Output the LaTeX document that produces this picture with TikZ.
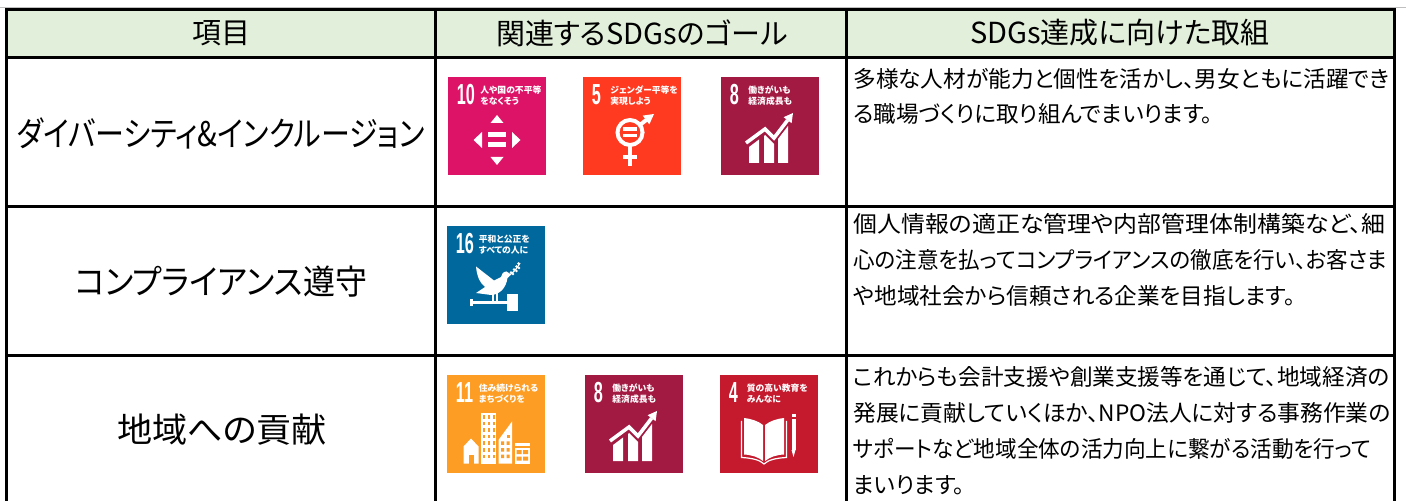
\documentclass[tikz,border=0pt]{standalone}
\usepackage{fontspec}
\usepackage{graphicx}
\setmainfont{Noto Sans CJK JP}[RawFeature=+palt]
\newfontfamily\numfont{Liberation Sans}
\usepackage{tikz}
\usetikzlibrary{arrows.meta}

\definecolor{hdrgreen}{RGB}{226,239,218}
\definecolor{sdgten}{HTML}{DD1367}
\definecolor{sdgfive}{HTML}{FF3A21}
\definecolor{sdgeight}{HTML}{A21942}
\definecolor{sdgsixteen}{HTML}{00689D}
\definecolor{sdgeleven}{HTML}{FD9D24}
\definecolor{sdgfour}{HTML}{C5192D}

\tikzset{
    grid/.style={line width=1.5pt, line cap=rect},
    head/.style={inner sep=0, font=\fontsize{14.5}{16}\selectfont},
    item/.style={inner sep=0, font=\fontsize{17}{19}\selectfont},
    desc/.style={anchor=west, inner sep=0, font=\fontsize{11.3}{13}\selectfont},
    goalnum/.style={anchor=base west, inner sep=0, text=white, font=\numfont\bfseries\fontsize{14.5}{15}\selectfont},
    goaltxt/.style={anchor=base west, inner sep=0, text=white, font=\bfseries\fontsize{4.4}{5}\selectfont},
}

% squeeze a line to a given width, keep its height
\newcommand{\fitto}[2]{\resizebox{#1}{\height}{#2}}

% tile: name, colour, number, text x, line 1, line 2
\newcommand{\sdgbase}[6]{%
    \fill[#2] (0,0) rectangle (98,98);
    \node[goalnum] (#1-num) at (8.5,28) {\scalebox{0.56}[1]{#3}};
    \node[goaltxt] (#1-l1) at (#4,17) {#5};
    \node[goaltxt] (#1-l2) at (#4,28) {#6};
}
% growth chart of goal 8
\newcommand{\sdgchart}{%
    \fill[white] (28,86) -- (28,70) -- (38,62.5) -- (38,86) -- cycle;
    \fill[white] (43,86) -- (43,59) -- (44,58) -- (53,67) -- (53,86) -- cycle;
    \fill[white] (57,86) -- (57,62) -- (67,49) -- (67,86) -- cycle;
    \draw[white, line width=1.8pt] (25,66) -- (44,52) -- (53,61) -- (66.6,43.2);
    \fill[white] (72,36) -- (70.6,46.2) -- (62.6,40.2) -- cycle;
}

\begin{document}
\begin{tikzpicture}[x=0.5pt, y=-0.5pt]
        \useasboundingbox (0,0) rectangle (1406,501);
        \fill[white] (0,0) rectangle (1406,501);

        % table
        \draw[gray!50, line width=0.4pt] (0,7) -- (1406,7);
        \fill[hdrgreen] (6,10) rectangle (1394,57.5);
        \draw[grid] (6,10) -- (1394,10);
        \draw[grid] (6,57.5) -- (1394,57.5);
        \draw[grid] (6,207) -- (1394,207);
        \draw[grid] (6,356) -- (1394,356);
        \draw[grid] (6,10) -- (6,510);
        \draw[grid] (435,10) -- (435,510);
        \draw[grid] (846,10) -- (846,510);
        \draw[grid] (1394,10) -- (1394,510);

        \node[head] (hitem) at (221,33) {項目};
        \node[head] (hgoal) at (642,33) {関連するSDGsのゴール};
        \node[head] (hplan) at (1120,33) {SDGs達成に向けた取組};

        \node[item] (item1) at (221,133) {\fitto{204pt}{ダイバーシティ\&インクルージョン}};
        \node[item] (item2) at (221,282) {\fitto{146pt}{コンプライアンス遵守}};
        \node[item] (item3) at (222,430) {\fitto{105pt}{地域への貢献}};

        \node[desc] (d11) at (853,79) {\fitto{268pt}{多様な人材が能力と個性を活かし、男女ともに活躍でき}};
        \node[desc] (d12) at (853,114) {る職場づくりに取り組んでまいります。};

        \node[desc] (d21) at (853,224) {\fitto{266pt}{個人情報の適正な管理や内部管理体制構築など、細}};
        \node[desc] (d22) at (853,260) {\fitto{267pt}{心の注意を払ってコンプライアンスの徹底を行い、お客さま}};
        \node[desc] (d23) at (853,296) {や地域社会から信頼される企業を目指します。};

        \node[desc] (d31) at (853,377) {\fitto{268pt}{これからも会計支援や創業支援等を通じて、地域経済の}};
        \node[desc] (d32) at (853,413) {\fitto{268.5pt}{発展に貢献していくほか、NPO法人に対する事務作業の}};
        \node[desc] (d33) at (853,449) {\fitto{259pt}{サポートなど地域全体の活力向上に繋がる活動を行って}};
        \node[desc] (d34) at (853,485) {まいります。};

        %%% goal 10
        \begin{scope}[shift={(448,77)}]
            \sdgbase{tenA}{sdgten}{10}{32}{人や国の不平等}{をなくそう}
            \fill[white] (49,38) -- (42.5,46) -- (55.5,46) -- cycle;
            \fill[white] (49,88) -- (42.5,80) -- (55.5,80) -- cycle;
            \fill[white] (25.5,63) -- (34,55) -- (34,71) -- cycle;
            \fill[white] (72.5,63) -- (64,55) -- (64,71) -- cycle;
            \fill[white] (40,55) rectangle (58,60);
            \fill[white] (40,65.5) rectangle (58,70.5);
        \end{scope}

        %%% goal 5
        \begin{scope}[shift={(583,77)}]
            \sdgbase{fiveA}{sdgfive}{5}{27}{ジェンダー平等を}{実現しよう}
            \draw[white, line width=2pt] (47,55.5) circle (12.5);
            \draw[white, line width=2pt] (57.5,47.5) -- (64,42.4);
            \fill[white] (71,37) -- (66.3,47.4) -- (59.7,38.6) -- cycle;
            \fill[white] (40,50.5) rectangle (54,54);
            \fill[white] (40,57) rectangle (54,60.5);
            \fill[white] (45,69) rectangle (49,89);
            \fill[white] (40,78) rectangle (54,82);
        \end{scope}

        %%% goal 8
        \begin{scope}[shift={(721,77)}]
            \sdgbase{eightA}{sdgeight}{8}{27}{働きがいも}{経済成長も}
            \sdgchart
        \end{scope}

        %%% goal 16
        \begin{scope}[shift={(447,226)}]
            \sdgbase{sixteenB}{sdgsixteen}{16}{31.5}{平和と公正を}{すべての人に}
            \fill[white] (64,48.5) -- (59.5,45.5) .. controls (56,45.5) and (54.5,48.5) .. (54,51)
                -- (47,54.5) -- (29,40.5) .. controls (30,51) and (33,57) .. (38,61)
                -- (29,67) -- (44,69) .. controls (53,68.5) and (59,62) .. (60.5,52) -- cycle;
            \draw[white, line width=0.6pt] (61,50) .. controls (66,47) and (70,43) .. (73,37);
            \foreach \lx/\ly in {64/46.5, 67/43.5, 69.5/40.5, 71.5/37.5, 66/48, 69.5/45, 72/42}
                \fill[white] (\lx,\ly) circle (1.3);
            \draw[white, line width=0.9pt] (46,67) -- (46,75) (50,67) -- (50,75);
            \fill[white] (24,75) rectangle (60,78.5);
            \fill[white] (23,73) rectangle (25.5,80.5);
            \fill[white] (60,68) rectangle (71,85);
        \end{scope}

        %%% goal 11
        \begin{scope}[shift={(447,375)}]
            \sdgbase{elevenC}{sdgeleven}{11}{31.5}{住み続けられる}{まちづくりを}
            \fill[white] (24,63.5) -- (31.5,71.5) -- (31.5,88.5) -- (16.5,88.5) -- (16.5,71.5) -- cycle;
            \fill[sdgeleven] (22,80) rectangle (26.5,88.5);
            \fill[white] (34,38) rectangle (49,88.5);
            \foreach \wx in {35.5,40.5,45.5}
                \foreach \wy in {40.5,47,53.5,60,66.5,73,79.5}
                    \fill[sdgeleven] (\wx,\wy) rectangle ++(2.8,3.5);
            \fill[white] (51.5,65) -- (65,46.5) -- (65,88.5) -- (51.5,88.5) -- cycle;
            \foreach \wy in {66.5,73,79.5}
                \fill[sdgeleven] (54,\wy) rectangle ++(3,3.5) (59.5,\wy) rectangle ++(3,3.5);
            \fill[sdgeleven] (59.5,60) rectangle ++(3,3.5);
            \fill[white] (67.5,68) rectangle (82.5,88.5);
            \fill[sdgeleven] (67.5,71) rectangle (82.5,72.5);
            \fill[sdgeleven] (69.5,75) rectangle ++(5,4) (76,75) rectangle ++(5,4);
            \fill[sdgeleven] (69.5,81.5) rectangle ++(5,4) (76,81.5) rectangle ++(5,4);
        \end{scope}

        %%% goal 8
        \begin{scope}[shift={(585,375)}]
            \sdgbase{eightC}{sdgeight}{8}{27}{働きがいも}{経済成長も}
            \sdgchart
        \end{scope}

        %%% goal 4
        \begin{scope}[shift={(720,375)}]
            \sdgbase{fourC}{sdgfour}{4}{26.5}{質の高い教育を}{みんなに}
            \fill[white] (24,43) .. controls (32,44) and (38,46) .. (43,50) -- (43,86)
                .. controls (38,82) and (32,80) .. (24,79.5) -- cycle;
            \fill[white] (64,43) .. controls (56,44) and (50,46) .. (45,50) -- (45,86)
                .. controls (50,82) and (56,80) .. (64,79.5) -- cycle;
            \draw[white, line width=0.6pt] (21.5,46) -- (21.5,82.5) .. controls (32,83) and (40,85) .. (44,89)
                .. controls (48,85) and (56,83) .. (66.5,82.5) -- (66.5,46);
            \fill[white] (71.5,44) rectangle (75.5,75);
            \fill[white] (71.5,75) -- (75.5,75) -- (73.5,82) -- cycle;
            \fill[white] (71.5,39.5) rectangle (75.5,42.5);
        \end{scope}
    \end{tikzpicture}
\end{document}
